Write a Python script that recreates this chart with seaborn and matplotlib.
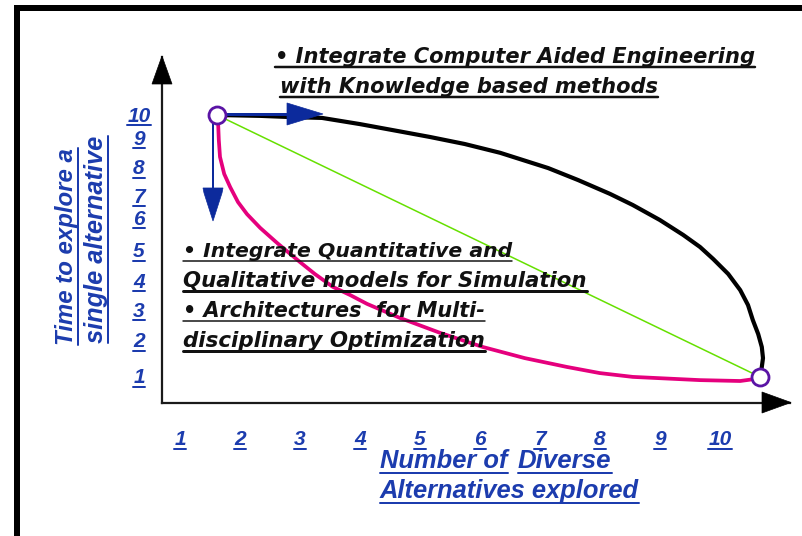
import matplotlib
matplotlib.use("Agg")
import matplotlib.pyplot as plt
import seaborn as sns
from matplotlib.lines import Line2D
from matplotlib.patches import Polygon
from matplotlib.transforms import IdentityTransform, offset_copy

# ---------------- data ----------------
x_ticks = [1, 2, 3, 4, 5, 6, 7, 8, 9, 10]
x_tick_labels = ["1", "2", "3", "4", "5", "6", "7", "8", "9", "10"]
y_ticks = [1, 2, 3, 4, 5, 6, 7, 8, 9, 10]
y_tick_labels = ["1", "2", "3", "4", "5", "6", "7", "8", "9", "10"]

# black curve: Computer Aided Engineering + knowledge based methods
cae_x = [1.00, 1.72, 2.22, 2.75, 3.38, 4.02, 4.55, 5.13, 5.72, 6.52, 7.02, 7.55, 7.93, 8.38,
         8.77, 9.05, 9.27, 9.52, 9.72, 9.85, 9.93, 10.02, 10.08, 10.10, 10.08, 10.05]
cae_y = [9.49, 9.46, 9.42, 9.39, 9.18, 8.94, 8.74, 8.50, 8.20, 7.68, 7.27, 6.80, 6.42, 5.91,
         5.40, 4.99, 4.58, 4.07, 3.52, 3.01, 2.50, 2.02, 1.58, 1.20, 0.90, 0.56]

# magenta curve: simulation / multidisciplinary optimization
sim_x = [1.00, 1.02, 1.03, 1.05, 1.12, 1.22, 1.35, 1.50, 1.72, 2.00, 2.38, 2.63, 2.93, 3.22,
         3.50, 4.05, 4.72, 5.43, 6.13, 6.83, 7.38, 7.93, 9.05, 9.72, 9.97, 10.05]
sim_y = [9.49, 9.15, 8.64, 8.06, 7.48, 7.03, 6.52, 6.11, 5.64, 5.13, 4.48, 4.07, 3.63, 3.35,
         3.05, 2.57, 2.06, 1.58, 1.20, 0.90, 0.69, 0.56, 0.45, 0.42, 0.49, 0.56]

# green straight line between the two end states
direct_x = [1.00, 10.05]
direct_y = [9.49, 0.56]

# end-state markers
end_x = [1.00, 10.05]
end_y = [9.49, 0.56]

top_lines = ["\u2022 Integrate Computer Aided Engineering", "with Knowledge based methods"]
mid_lines = ["\u2022 Integrate Quantitative and", "Qualitative models for Simulation",
             "\u2022 Architectures  for Multi-", "disciplinary Optimization"]
ytitle_lines = ["Time to explore a", "single alternative"]
xtitle_parts = ["Number of", "Diverse", "Alternatives explored"]

# ---------------- layout / style ----------------
W, H = 802, 536
BLUE = "#1c3cae"
NAVY = "#0c2a9c"
BLACK = "#111111"
MAGENTA = "#e5007d"
GREEN = "#66e000"
PURPLE = "#5a14a5"
PX = 0.72  # points per pixel at dpi 100

sns.set_style("white")
fig = plt.figure(figsize=(W / 100, H / 100), dpi=100)
fig.patch.set_facecolor("white")

AX_L, AX_R, AX_T, AX_B = 162, 790, 57, 403
ax = fig.add_axes([AX_L / W, 1 - AX_B / H, (AX_R - AX_L) / W, (AX_B - AX_T) / H])
XLIM = (0.0833, 10.55)
YLIM = (-0.33, 11.467)
ax.set_xlim(*XLIM)
ax.set_ylim(*YLIM)
ax.set_autoscale_on(False)

sns.lineplot(x=direct_x, y=direct_y, sort=False, estimator=None, color=GREEN, lw=1.1, ax=ax, zorder=2)
sns.lineplot(x=sim_x, y=sim_y, sort=False, estimator=None, color=MAGENTA, lw=2.7, ax=ax, zorder=3)
sns.lineplot(x=cae_x, y=cae_y, sort=False, estimator=None, color="black", lw=3.0, ax=ax, zorder=3)
for ln in ax.lines:
    ln.set_solid_joinstyle("round")
    ln.set_solid_capstyle("round")

ax.set_xlim(*XLIM)
ax.set_ylim(*YLIM)
ax.set_xlabel("")
ax.set_ylabel("")
ax.set_facecolor("white")
for side in ["top", "right"]:
    ax.spines[side].set_visible(False)
for side in ["left", "bottom"]:
    ax.spines[side].set_color("#1a1a1a")
    ax.spines[side].set_linewidth(1.6)
    ax.spines[side].set_zorder(1)

ax.set_xticks(x_ticks)
ax.set_yticks(y_ticks)
ax.set_xticklabels([])
ax.set_yticklabels([])
ax.tick_params(axis="x", direction="out", length=15 * PX, width=1.5 * PX, color="#1a1a1a")
ax.tick_params(axis="y", direction="out", length=10 * PX, width=1.5 * PX, color="#1a1a1a")

ident = IdentityTransform()

def D(x, y):
    """pixel (from top-left) -> display coords"""
    return (x, H - y)

# blue arrows leaving the start state
sx, sy = ax.transData.transform((end_x[0], end_y[0]))
ax.add_line(Line2D([sx + 8, sx + 72], [sy + 1, sy + 1], transform=ident, color=NAVY,
                   lw=3 * PX, zorder=4, clip_on=False))
ax.add_patch(Polygon([(sx + 70, sy + 12), (sx + 70, sy - 10), (sx + 106, sy + 1)], closed=True,
                     transform=ident, facecolor=NAVY, edgecolor=NAVY, lw=0.5, zorder=4, clip_on=False))
ax.add_line(Line2D([sx - 4, sx - 4], [sy - 8, sy - 75], transform=ident, color=NAVY,
                   lw=2 * PX, zorder=4, clip_on=False))
ax.add_patch(Polygon([(sx - 14, sy - 73), (sx + 6, sy - 73), (sx + 5, sy - 78), (sx - 4, sy - 106),
                      (sx - 13, sy - 78)], closed=True, transform=ident, facecolor=NAVY,
                     edgecolor=NAVY, lw=0.5, zorder=4, clip_on=False))

sns.scatterplot(x=end_x, y=end_y, marker="o", s=(17 * PX) ** 2, facecolor="white",
                edgecolor=PURPLE, linewidth=2.8 * PX, ax=ax, zorder=6, clip_on=False)
ax.set_xlim(*XLIM)
ax.set_ylim(*YLIM)

# axis arrow heads
fig.add_artist(Polygon([D(762, 392), D(762, 413), D(791, 402.5)], closed=True, transform=ident,
                       facecolor="black", edgecolor="black", lw=0.5))
fig.add_artist(Polygon([D(152, 84), D(172, 84), D(162, 56)], closed=True, transform=ident,
                       facecolor="black", edgecolor="black", lw=0.5))

# outer frame (left + top only visible)
fig.add_artist(Line2D([16.5, 16.5], [H - 8, -10], transform=ident, color="black",
                      lw=6 * PX, solid_capstyle="projecting"))
fig.add_artist(Line2D([16.5, W + 10], [H - 8, H - 8], transform=ident, color="black",
                      lw=6 * PX, solid_capstyle="projecting"))

renderer = fig.canvas.get_renderer()
underlined = []

def fit_text(x, y, s, width, family, color, rot=0, uw=2.0, size0=14):
    t = fig.text(x / W, 1 - y / H, s, fontsize=size0, family=family, weight="bold",
                 style="italic", color=color, ha="left", va="baseline", rotation_mode="anchor")
    w = t.get_window_extent(renderer).width
    t.set_fontsize(size0 * width / w)
    t.set_rotation(rot)
    underlined.append((t, rot, color, uw))
    return t

# top annotation
fit_text(275, 63, top_lines[0], 482, "DejaVu Sans", BLACK, uw=2.5)
fit_text(280, 93, top_lines[1], 380, "DejaVu Sans", BLACK, uw=2.5)

# middle annotation
mid_base = [257, 287, 317, 347]
mid_width = [330, 404, 303, 303]
mid_uw = [1.5, 3.0, 1.5, 3.0]
for s, b, w, u in zip(mid_lines, mid_base, mid_width, mid_uw):
    fit_text(183, b, s, w, "DejaVu Sans", BLACK, uw=u)

# axis titles
fit_text(380, 468, xtitle_parts[0], 128, "Liberation Sans", BLUE, uw=2)
fit_text(518, 468, xtitle_parts[1], 94, "Liberation Sans", BLUE, uw=2)
fit_text(380, 498, xtitle_parts[2], 260, "Liberation Sans", BLUE, uw=2)
fit_text(73, 345, ytitle_lines[0], 197, "Liberation Sans", BLUE, rot=90, uw=2)
fit_text(103, 343, ytitle_lines[1], 208, "Liberation Sans", BLUE, rot=90, uw=2)

# tick labels (offset from their ticks as in the original slide)
for v, lab in zip(x_ticks, x_tick_labels):
    tr = offset_copy(ax.get_xaxis_transform(), fig=fig, x=-37, y=-42, units="dots")
    t = ax.text(v, 0, lab, transform=tr, ha="center", va="baseline", fontsize=15,
                family="Liberation Sans", weight="bold", style="italic", color=BLUE, clip_on=False)
    underlined.append((t, 0, BLUE, 2))

y_label_shift = [12, 5, 4, 4, 3, 0, 7, 8, 8, 14]  # pixels below each tick (label centre)
for v, lab, sh in zip(y_ticks, y_tick_labels, y_label_shift):
    tr = offset_copy(ax.get_yaxis_transform(), fig=fig, x=-23, y=-(sh + 7.5), units="dots")
    t = ax.text(0, v, lab, transform=tr, ha="center", va="baseline", fontsize=15,
                family="Liberation Sans", weight="bold", style="italic", color=BLUE, clip_on=False)
    underlined.append((t, 0, BLUE, 2))

fig.canvas.draw()
for t, rot, color, uw in underlined:
    bb = t.get_window_extent(renderer)
    if rot == 0:
        yy = bb.y0 + 0.5
        fig.add_artist(Line2D([bb.x0, bb.x1], [yy, yy], transform=ident, color=color, lw=uw * PX))
    else:
        xx = bb.x1 - 0.5
        fig.add_artist(Line2D([xx, xx], [bb.y0, bb.y1], transform=ident, color=color, lw=uw * PX))

fig.savefig("out.png", dpi=100, facecolor="white")
